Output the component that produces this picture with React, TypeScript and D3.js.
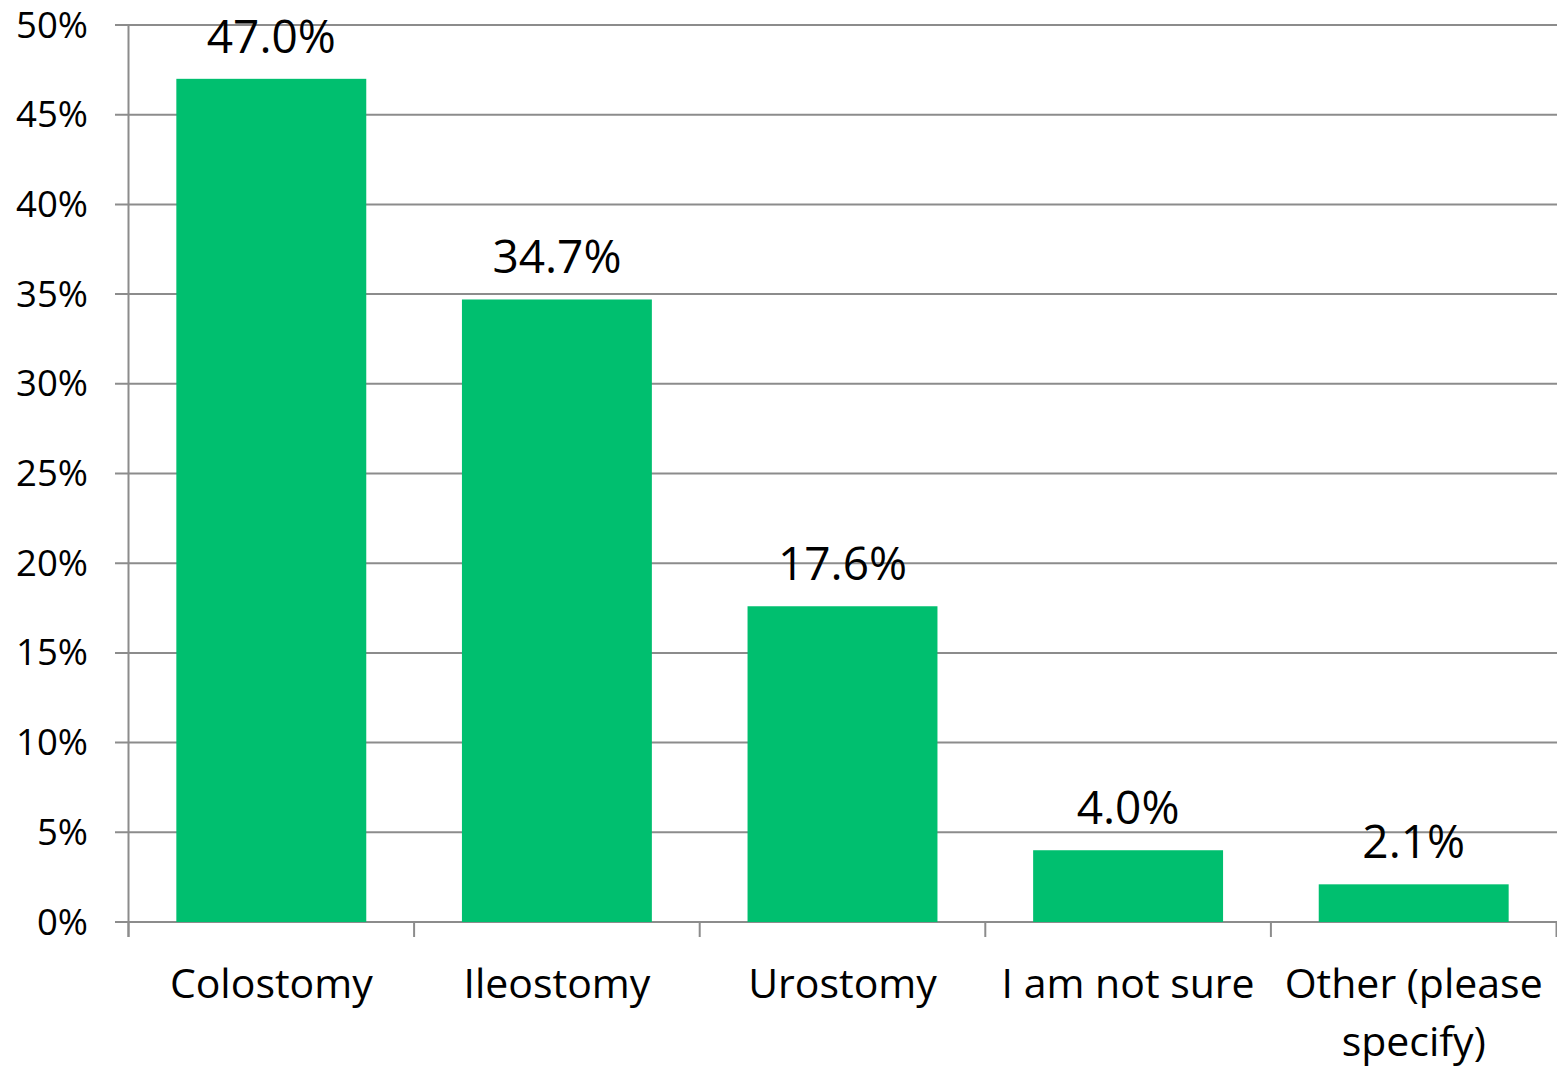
import React from "react";
import * as d3 from "d3";

const categories = ["Colostomy", "Ileostomy", "Urostomy", "I am not sure", "Other (please specify)"];
const categoryLines = [["Colostomy"], ["Ileostomy"], ["Urostomy"], ["I am not sure"], ["Other (please", "specify)"]];
const values = [47.0, 34.7, 17.6, 4.0, 2.1];
const yTicks = [0, 5, 10, 15, 20, 25, 30, 35, 40, 45, 50];

const W = 1557;
const H = 1067;
const FONT = "'Open Sans', sans-serif";

export default function App() {
  const left = 128.5;
  const right = 1556.5;
  const top = 25;
  const bottom = 922;
  const x = d3.scaleBand<string>().domain(categories).range([left, right]).paddingInner(0.335).paddingOuter(0.1675);
  const y = d3.scaleLinear().domain([0, 50]).range([bottom, top]);
  const step = x.step();
  const green = "#00BF6F";
  const grid = "#8C8C8C";

  return (
    <svg width={W} height={H} style={{ position: "absolute", left: 0, top: 0, background: "#fff" }}>
      {yTicks.map((t) => (
        <g key={t}>
          <line x1={115} x2={W} y1={y(t)} y2={y(t)} stroke={grid} strokeWidth={2} />
          <text x={88} y={y(t) + 12.5} textAnchor="end" fontFamily={FONT} fontSize={36.5} fill="#000">
            {t}%
          </text>
        </g>
      ))}
      <line x1={left} x2={left} y1={top} y2={bottom + 15} stroke={grid} strokeWidth={2} />
      {d3.range(categories.length + 1).map((i) => (
        <line key={i} x1={left + i * step} x2={left + i * step} y1={bottom} y2={bottom + 15} stroke={grid} strokeWidth={2} />
      ))}
      {categories.map((c, i) => (
        <g key={c}>
          <rect x={x(c)} y={y(values[i])} width={x.bandwidth()} height={bottom - y(values[i])} fill={green} />
          <text
            x={(x(c) as number) + x.bandwidth() / 2}
            y={y(values[i]) - 26}
            textAnchor="middle"
            fontFamily={FONT}
            fontSize={46}
            fill="#000"
          >
            {values[i].toFixed(1)}%
          </text>
          {categoryLines[i].map((ln, j) => (
            <text
              key={j}
              x={(x(c) as number) + x.bandwidth() / 2}
              y={998 + j * 58}
              textAnchor="middle"
              fontFamily={FONT}
              fontSize={41}
              fill="#000"
            >
              {ln}
            </text>
          ))}
        </g>
      ))}
    </svg>
  );
}
